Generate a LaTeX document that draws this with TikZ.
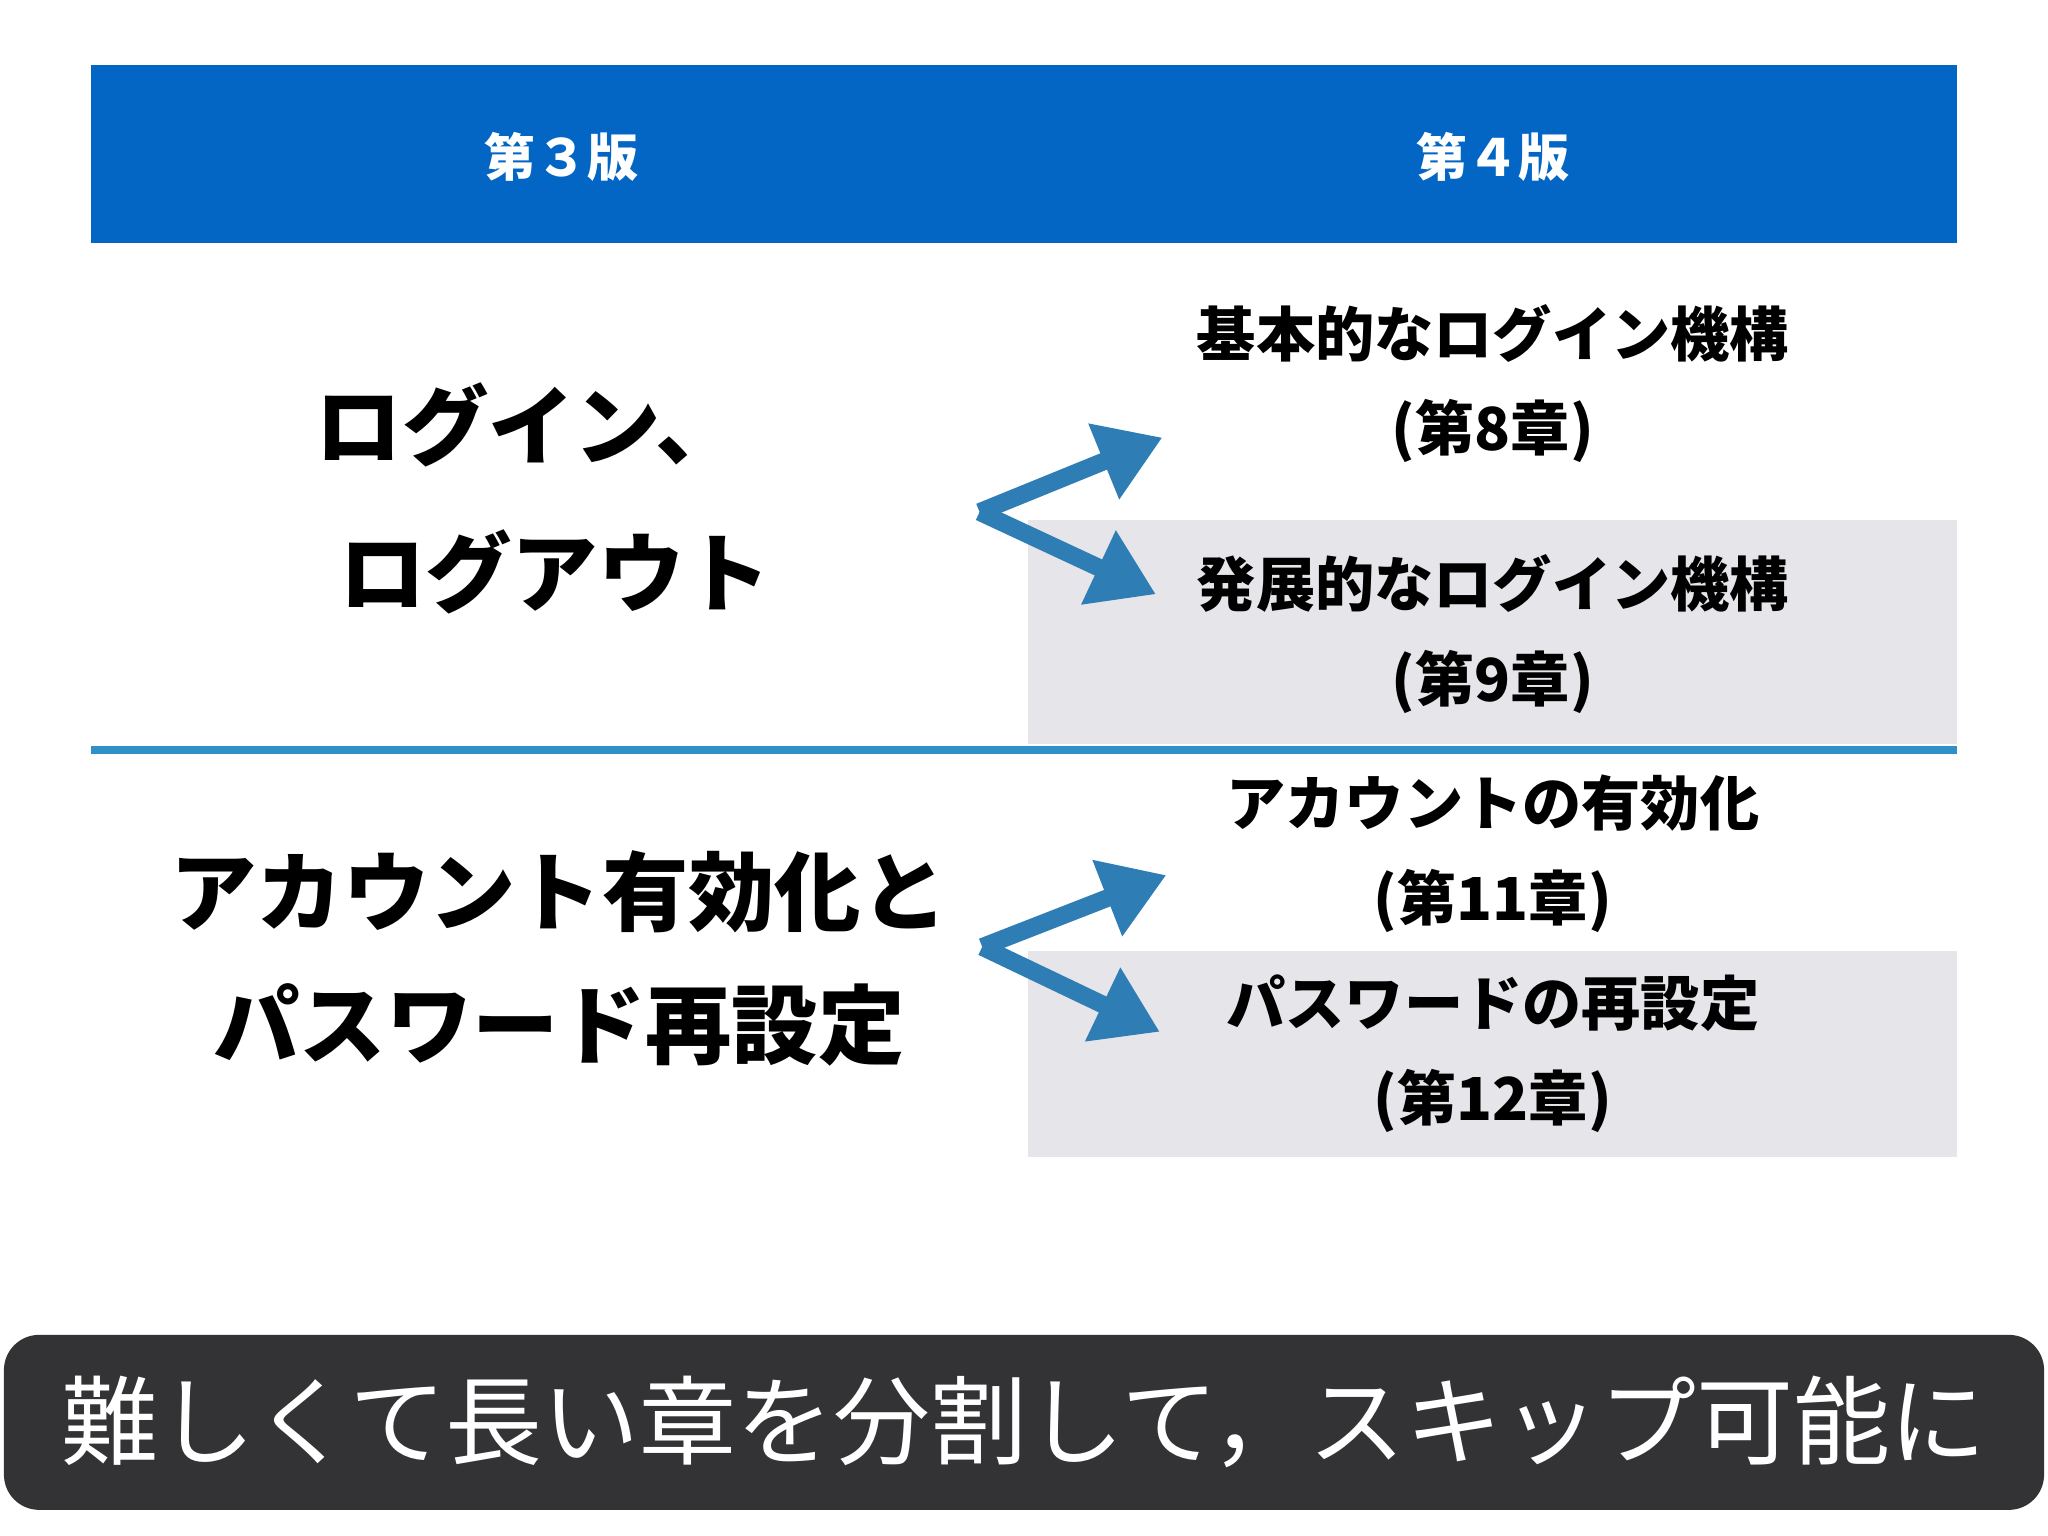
\documentclass[tikz,border=0pt]{standalone}
\usepackage{fontspec}
\setmainfont{Noto Sans CJK JP}
\usetikzlibrary{positioning,arrows.meta}
\definecolor{headblue}{RGB}{4,102,196}
\definecolor{lineblue}{RGB}{46,145,200}
\definecolor{arrowblue}{RGB}{46,125,181}
\definecolor{boxgrey}{RGB}{229,229,234}
\definecolor{bannergrey}{RGB}{51,51,53}

\tikzset{
  head/.style={text=white, font=\fontsize{14.5}{17}\selectfont\bfseries},
  big/.style={font=\fontsize{24.5}{29}\selectfont\bfseries},
  chap/.style={font=\fontsize{16.8}{20}\selectfont\bfseries},
  zig/.style={arrowblue, line width=5pt, -{Triangle[length=18pt,width=22pt]}},
}

\begin{document}
\begin{tikzpicture}[x=0.3706pt, y=-0.3706pt]
\useasboundingbox (0,0) rectangle (1568,1176);

% Header bar
\fill[headblue] (70,50) rectangle (1498,186);
\node[head] (v3) at (430,120) {第３版};
\node[head] (v4) at (1143,120) {第４版};

% Grey boxes
\fill[boxgrey] (787,398) rectangle (1498,570);
\fill[boxgrey] (787,728) rectangle (1498,886);

% Divider
\draw[lineblue, line width=2.2pt] (70,574) -- (1498,574);

% Left texts
\node[big] (login1) at (405,325) {ログイン、};
\node[big] (login2) at (425,438) {ログアウト};
\node[big] (acct1) at (428,683) {アカウント有効化と};
\node[big] (acct2) at (428,785) {パスワード再設定};

% Right texts
\node[chap] (basic) at (1143,255) {基本的なログイン機構};
\node[chap] (basicc) at (1143,330) {(第8章)};
\node[chap] (adv) at (1143,447) {発展的なログイン機構};
\node[chap] (advc) at (1143,522) {(第9章)};
\node[chap] (act) at (1143,615) {アカウントの有効化};
\node[chap] (actc) at (1143,690) {(第11章)};
\node[chap] (pw) at (1143,768) {パスワードの再設定};
\node[chap] (pwc) at (1143,843) {(第12章)};

% Arrows
\coordinate (s1) at (750,392);
\coordinate (t1) at (890,335);
\coordinate (u1) at (885,455);
\coordinate (s2) at (752,725);
\coordinate (t2) at (893,670);
\coordinate (u2) at (888,790);
\draw[zig] (s1) -- (t1);
\draw[zig] (s1) -- (u1);
\draw[zig] (s2) -- (t2);
\draw[zig] (s2) -- (u2);

% Banner
\fill[bannergrey, rounded corners=10pt] (3,1022) rectangle (1565,1156);
\node[text=white, font=\fontsize{27.5}{32}\selectfont] (banner) at (784,1089) {難しくて長い章を分割して，スキップ可能に};
\end{tikzpicture}
\end{document}
